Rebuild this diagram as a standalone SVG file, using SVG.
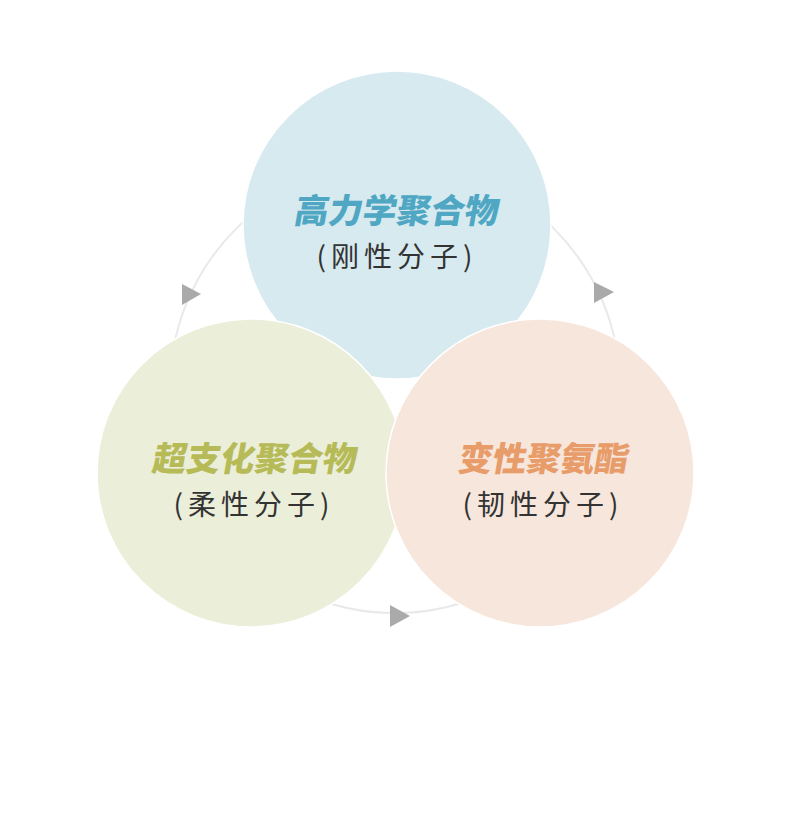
<svg xmlns="http://www.w3.org/2000/svg" width="790" height="834" viewBox="0 0 790 834">
<style>
.ring{fill:none;stroke:#e9e9e9;stroke-width:2}
.arrow{fill:#aaaaaa}
.bubble{stroke:#ffffff;stroke-width:1.5}
.title{font-family:"Noto Sans CJK SC","Noto Sans",sans-serif;font-weight:900;font-size:34px;text-anchor:middle}
.sub{font-family:"Noto Sans CJK SC","Noto Sans",sans-serif;font-weight:400;font-size:28px;fill:#333333;text-anchor:middle;letter-spacing:5px}
</style>
<rect width="790" height="834" fill="#ffffff"/>
<g id="connectors">
<circle class="ring" cx="395" cy="388" r="225"/>
<polygon class="arrow" points="182,284 201,294 182,305"/>
<polygon class="arrow" points="594,282 614,292 594,303"/>
<polygon class="arrow" points="390,605 410,616 390,627"/>
</g>
<g id="node-top">
<circle class="bubble" cx="397" cy="225" r="154" fill="#d7eaf0"/>
<text class="title" fill="#4fa7c3" transform="translate(395,223) skewX(-10)">高力学聚合物</text>
<text class="sub" x="397" y="267">(刚性分子)</text>
</g>
<g id="node-left">
<circle class="bubble" cx="251" cy="473" r="154" fill="#ebeed9"/>
<text class="title" fill="#b6bb58" transform="translate(253,471) skewX(-10)">超支化聚合物</text>
<text class="sub" x="254" y="515">(柔性分子)</text>
</g>
<g id="node-right">
<circle class="bubble" cx="540" cy="473" r="154" fill="#f7e6dc"/>
<text class="title" fill="#e79c6a" transform="translate(542,471) skewX(-10)">变性聚氨酯</text>
<text class="sub" x="543" y="515">(韧性分子)</text>
</g>
</svg>
